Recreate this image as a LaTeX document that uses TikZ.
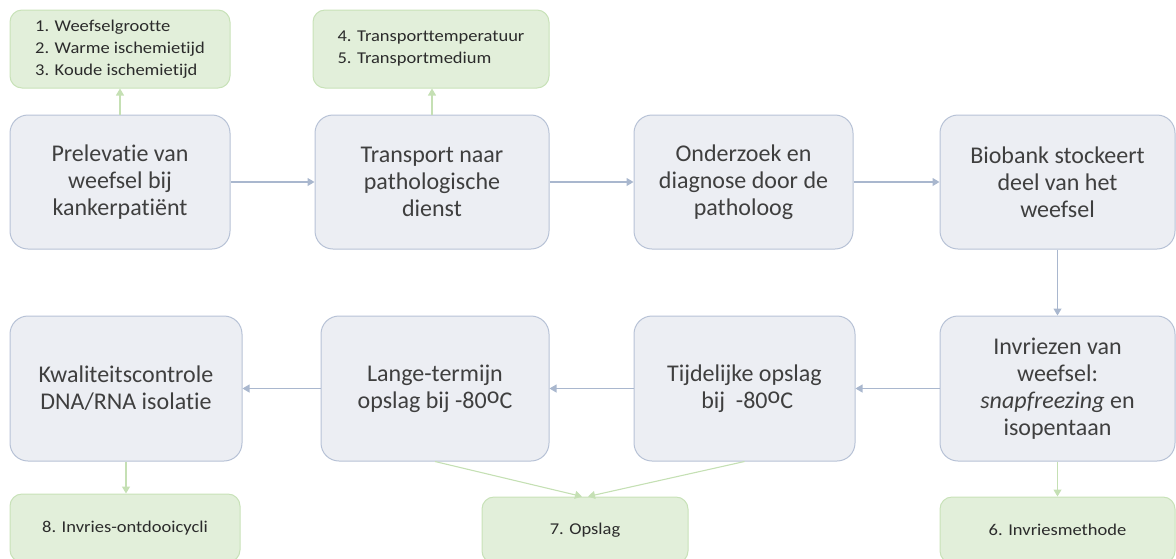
\documentclass[tikz,border=0pt]{standalone}
\usepackage{fontspec}
\setmainfont[Ligatures=NoCommon]{Carlito}
\newfontfamily\notefont[FakeStretch=1.12,Ligatures=NoCommon]{Carlito}
\usetikzlibrary{arrows.meta}

\definecolor{stepfill}{HTML}{ECEEF3}
\definecolor{stepline}{HTML}{B7C2D6}
\definecolor{notefill}{HTML}{E2EFDA}
\definecolor{noteline}{HTML}{C8E2B8}
\definecolor{flowline}{HTML}{A9B7CE}
\definecolor{noteflow}{HTML}{C5E0B4}
\definecolor{steptext}{HTML}{3F3F3F}
\definecolor{notetext}{HTML}{2B2B2B}

\newcommand{\degsign}{\raisebox{0.2em}{o}}

\tikzset{
  stepbox/.style={draw=stepline, fill=stepfill, line width=1pt, rounded corners=18pt,
    align=center, text=steptext, inner sep=4pt,
    font=\fontsize{24}{27}\selectfont},
  notebox/.style={draw=noteline, fill=notefill, line width=1pt, rounded corners=12pt,
    text=notetext, inner sep=4pt,
    font=\notefont\fontsize{16.5}{22}\selectfont},
  flow/.style={draw=flowline, line width=1.1pt, -{Triangle[length=7pt,width=8pt]}},
  noteflowarrow/.style={draw=noteflow, line width=1.1pt, -{Triangle[length=7pt,width=8pt]}}
}

\begin{document}
\begin{tikzpicture}[x=1pt,y=-1pt]
  \useasboundingbox (0,0) rectangle (1176,558);
  \clip (0,0) rectangle (1176,558);

  % main process steps, upper row
  \node[stepbox, minimum width=220pt, minimum height=134pt] (prelev) at (120,182)
    {Prelevatie van\\weefsel bij\\kankerpatiënt};
  \node[stepbox, minimum width=234pt, minimum height=134pt] (transp) at (432,182)
    {Transport naar\\pathologische\\dienst};
  \node[stepbox, minimum width=219pt, minimum height=134pt] (onderz) at (743.5,182)
    {Onderzoek en\\diagnose door de\\patholoog};
  \node[stepbox, minimum width=235pt, minimum height=134pt] (biobank) at (1057.5,182)
    {Biobank stockeert\\deel van het\\weefsel};

  % main process steps, lower row
  \node[stepbox, minimum width=235pt, minimum height=145pt] (invriez) at (1057.5,388.5)
    {Invriezen van\\weefsel:\\\textit{snapfreezing} en\\isopentaan};
  \node[stepbox, minimum width=221pt, minimum height=145pt] (tijdel) at (744.5,388.5)
    {Tijdelijke opslag\\\ bij\ \ -80\degsign C};
  \node[stepbox, minimum width=228pt, minimum height=145pt] (lange) at (435,388.5)
    {Lange-termijn\\opslag bij -80\degsign C};
  \node[stepbox, minimum width=232pt, minimum height=145pt] (kwalit) at (126,388.5)
    {Kwaliteitscontrole\\DNA/RNA isolatie};

  % quality factors
  \node[notebox, minimum width=220pt, minimum height=78pt, align=left] (n1) at (120,49)
    {1. Weefselgrootte\\2. Warme ischemietijd\\3. Koude ischemietijd};
  \node[notebox, minimum width=236pt, minimum height=78pt, align=left] (n2) at (431,49)
    {4. Transporttemperatuur\\5. Transportmedium};
  \node[notebox, minimum width=235pt, minimum height=66pt] (n6) at (1057.5,530)
    {6. Invriesmethode};
  \node[notebox, minimum width=206pt, minimum height=66pt] (n7) at (585,530)
    {7. Opslag};
  \node[notebox, minimum width=230pt, minimum height=68pt] (n8) at (125,528)
    {8. Invries-ontdooicycli};

  % process flow
  \draw[flow] (prelev) -- (transp);
  \draw[flow] (transp) -- (onderz);
  \draw[flow] (onderz) -- (biobank);
  \draw[flow] (biobank) -- (invriez);
  \draw[flow] (invriez) -- (tijdel);
  \draw[flow] (tijdel) -- (lange);
  \draw[flow] (lange) -- (kwalit);

  % links to the quality factors
  \draw[noteflowarrow] (prelev.north) -- (n1.south);
  \draw[noteflowarrow] (transp.north) -- (transp.north |- n2.south);
  \draw[noteflowarrow] (invriez.south) -- (n6.north);
  \draw[noteflowarrow] (kwalit.south) -- (kwalit.south |- n8.north);
  \coordinate (n7l) at ([xshift=-3pt]n7.north);
  \coordinate (n7r) at ([xshift=3pt]n7.north);
  \draw[noteflowarrow] (lange.south) -- (n7l);
  \draw[noteflowarrow] (tijdel.south) -- (n7r);
\end{tikzpicture}
\end{document}
